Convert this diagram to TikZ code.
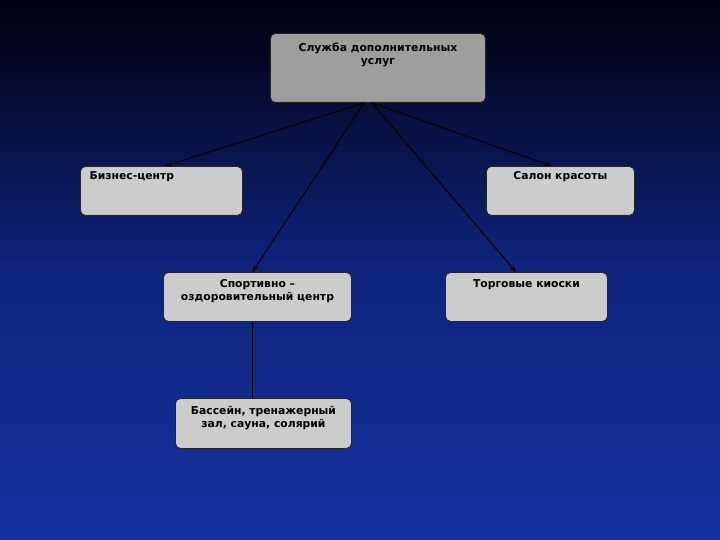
\documentclass[tikz,border=0pt]{standalone}
\usepackage{fontspec}
\setmainfont{DejaVu Sans}
\usetikzlibrary{shadows,arrows.meta}
\begin{document}
\begin{tikzpicture}[x=1pt,y=-1pt,
  bx/.style={draw=black!85,line width=0.9pt,rounded corners=5pt,fill=black!20,inner sep=0pt,anchor=north west},
  tx/.style={font=\fontsize{10.8}{13}\selectfont\bfseries,align=center},
  ln/.style={draw=black,line width=1.1pt},
  ar/.style={ln,-{Stealth[length=7pt,width=5pt]}}]
\shade[top color=black!95!blue,bottom color={rgb,255:red,20;green,50;blue,160},middle color={rgb,255:red,14;green,36;blue,125}] (0,0) rectangle (720,540);
\useasboundingbox (0,0) rectangle (720,540);
\node[bx,fill=black!38,minimum width=215pt,minimum height=69pt] (top) at (270,33) {};
\node[tx,anchor=north] (topt) at (top.north) [yshift=-6pt] {Служба дополнительных\\услуг};
\node[bx,minimum width=162pt,minimum height=49pt] (biz) at (80,166) {};
\node[tx,anchor=north west] (bizt) at (biz.north west) [xshift=6pt,yshift=-2pt] {Бизнес-центр};
\node[bx,minimum width=148pt,minimum height=49pt] (sal) at (486,166) {};
\node[tx,anchor=north] (salt) at (sal.north) [yshift=-2pt] {Салон красоты};
\node[bx,minimum width=188pt,minimum height=49pt] (spo) at (163,272) {};
\node[tx,anchor=north] (spot) at (spo.north) [yshift=-4pt] {Спортивно –\\оздоровительный центр};
\node[bx,minimum width=162pt,minimum height=49pt] (tor) at (445,272) {};
\node[tx,anchor=north] (tort) at (tor.north) [yshift=-4pt] {Торговые киоски};
\node[bx,minimum width=176pt,minimum height=50pt] (bas) at (175,398) {};
\node[tx,anchor=north] (bast) at (bas.north) [yshift=-5pt] {Бассейн, тренажерный\\зал, сауна, солярий};
\coordinate (o1) at ([xshift=-14pt]top.south);
\coordinate (o2) at ([xshift=-6pt]top.south);
\coordinate (e1) at ([xshift=85pt]biz.north west);
\coordinate (e2) at ([xshift=-5pt]spo.north);
\coordinate (e3) at ([xshift=-9pt]sal.north);
\coordinate (e4) at (516,272);
\draw[ar] (o1) -- (e1);
\draw[ar] (o1) -- (e2);
\draw[ar] (o2) -- (e3);
\draw[ar] (o2) -- (e4);
\draw[ln,line width=0.7pt] ([xshift=-5pt]spo.south) -- ([xshift=-5pt]spo.south |- bas.north);
\end{tikzpicture}
\end{document}
